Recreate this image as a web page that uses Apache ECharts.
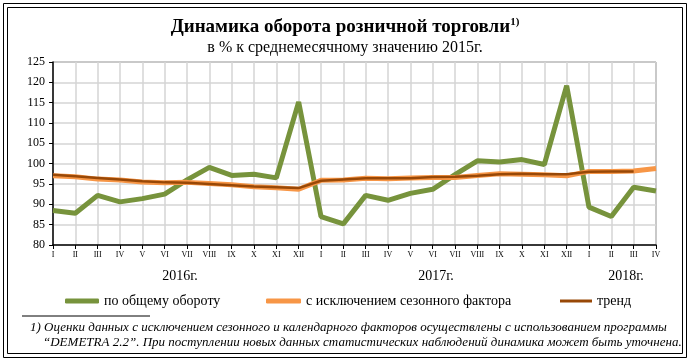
<!DOCTYPE html>
<html><head><meta charset="utf-8">
<script src="https://cdn.jsdelivr.net/npm/echarts@6/dist/echarts.min.js"></script>
<style>html,body{margin:0;padding:0;background:#fff}#c{width:690px;height:364px}</style>
</head><body><div id="c"></div>
<script>
const months = ['I','II','III','IV','V','VI','VII','VIII','IX','X','XI','XII','I','II','III','IV','V','VI','VII','VIII','IX','X','XI','XII','I','II','III','IV'];
const yearLabels = ['2016г.','2017г.','2018г.'];
const total = [88.5,87.8,92.2,90.6,91.4,92.5,96.0,99.1,97.1,97.4,96.5,115.2,87.0,85.2,92.2,91.0,92.7,93.7,97.3,100.7,100.4,101.0,99.8,119.2,89.3,87.0,94.2,93.3];
const seasonal = [97.0,96.8,96.2,96.0,95.5,95.3,95.4,95.1,94.8,94.3,94.1,93.7,95.9,96.0,96.4,96.3,96.5,96.6,96.6,97.1,97.5,97.4,97.3,97.0,98.1,98.1,98.2,98.8];
const trend = [97.3,96.9,96.5,96.1,95.7,95.4,95.3,95.0,94.7,94.4,94.2,94.0,95.8,96.1,96.4,96.4,96.4,96.7,96.8,97.0,97.4,97.5,97.4,97.4,98.0,98.1,98.1,null];
const seriesNames = ['по общему обороту','с исключением сезонного фактора','тренд'];
const yTicks = {min:80, max:125, interval:5};

const serif = '"Liberation Serif","DejaVu Serif",serif';
const legendText = {fontFamily:serif,fontSize:14,color:'#000'};
const chart = echarts.init(document.getElementById('c'), null, {renderer:'canvas'});
chart.setOption({
  animation:false,
  backgroundColor:'#fff',
  title:{
    text:'{a|Динамика оборота розничной торговли}{s|1)}',
    subtext:'в % к среднемесячному значению 2015г.',
    left:'center', top:12, itemGap:3,
    textStyle:{rich:{
      a:{fontFamily:serif,fontWeight:'bold',fontSize:19,color:'#000'},
      s:{fontFamily:serif,fontWeight:'bold',fontSize:11,color:'#000',padding:[0,0,9,0]}
    }},
    subtextStyle:{fontFamily:serif,fontSize:16,color:'#000'}
  },
  grid:{left:53,right:34,top:62,bottom:119,containLabel:false},
  legend:[
    {top:289,left:60,itemWidth:34,itemHeight:5,itemGap:6,icon:'roundRect',textStyle:legendText,data:[seriesNames[0]]},
    {top:289,left:261,itemWidth:35,itemHeight:5,itemGap:6,icon:'roundRect',textStyle:legendText,data:[seriesNames[1]]},
    {top:289,left:555,itemWidth:32,itemHeight:3,itemGap:6,icon:'rect',textStyle:legendText,data:[seriesNames[2]]}
  ],
  xAxis:{
    type:'category',data:months,boundaryGap:false,
    axisLine:{lineStyle:{color:'#000',width:1.5}},
    axisTick:{show:true,length:4,lineStyle:{color:'#000'}},
    axisLabel:{fontFamily:serif,fontSize:8,color:'#000',margin:6,interval:0},
    splitLine:{show:true,lineStyle:{color:'#d4d4d4',width:1.5}}
  },
  yAxis:{
    type:'value',min:yTicks.min,max:yTicks.max,interval:yTicks.interval,
    axisLine:{show:true,lineStyle:{color:'#000',width:1.5}},
    axisTick:{show:true,length:4,inside:false,lineStyle:{color:'#000'}},
    axisLabel:{fontFamily:serif,fontSize:12,color:'#000',margin:8},
    splitLine:{show:true,lineStyle:{color:'#d4d4d4',width:1.5}}
  },
  series:[
    {name:seriesNames[0],type:'line',data:total,symbol:'none',lineStyle:{color:'#77933C',width:5},itemStyle:{color:'#77933C'},z:3},
    {name:seriesNames[1],type:'line',data:seasonal,symbol:'none',lineStyle:{color:'#F79646',width:5},itemStyle:{color:'#F79646'},z:4},
    {name:seriesNames[2],type:'line',data:trend,symbol:'none',lineStyle:{color:'#984807',width:2.5},itemStyle:{color:'#984807'},z:5}
  ],
  graphic:[
    {type:'rect',shape:{x:3.5,y:3.5,width:683,height:354},style:{fill:'none',stroke:'#000',lineWidth:1},silent:true},
    {type:'rect',shape:{x:7.5,y:7.5,width:675,height:346},style:{fill:'none',stroke:'#000',lineWidth:1},silent:true},
    {type:'line',shape:{x1:656,y1:62,x2:656,y2:245},style:{stroke:'#888',lineWidth:1.5},silent:true},
    {type:'line',shape:{x1:53,y1:62,x2:656,y2:62},style:{stroke:'#888',lineWidth:1.5},silent:true},
    {type:'text',x:180,y:276,style:{text:yearLabels[0],font:'14px '+serif,fill:'#000',textAlign:'center',textVerticalAlign:'middle'}},
    {type:'text',x:436,y:276,style:{text:yearLabels[1],font:'14px '+serif,fill:'#000',textAlign:'center',textVerticalAlign:'middle'}},
    {type:'text',x:626,y:276,style:{text:yearLabels[2],font:'14px '+serif,fill:'#000',textAlign:'center',textVerticalAlign:'middle'}},
    {type:'line',shape:{x1:22,y1:316,x2:150,y2:316},style:{stroke:'#000',lineWidth:1},silent:true},
    {type:'text',x:30,y:328,style:{text:'1) Оценки данных с исключением сезонного и календарного факторов осуществлены с использованием программы',font:'italic 13px '+serif,fill:'#000',textVerticalAlign:'middle'}},
    {type:'text',x:43,y:343,style:{text:'“DEMETRA 2.2”. При поступлении новых данных статистических наблюдений динамика может быть уточнена.',font:'italic 13px '+serif,fill:'#000',textVerticalAlign:'middle'}}
  ]
});
</script></body></html>
